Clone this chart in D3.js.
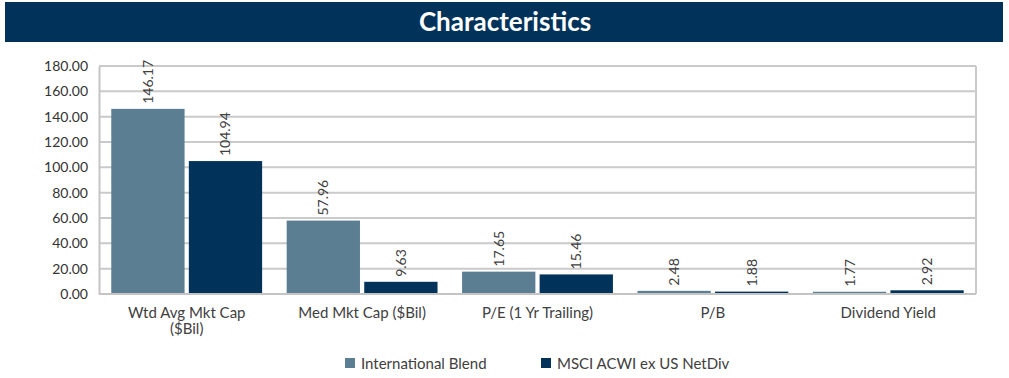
<!DOCTYPE html>
<html>
<head>
<meta charset="utf-8">
<script src="https://cdn.jsdelivr.net/npm/d3@7"></script>
<style>
  body { margin: 0; background: #fff; }
  svg { display: block; font-family: "Lato", "DejaVu Sans", sans-serif; }
</style>
</head>
<body>
<svg id="chart" width="1009" height="378"></svg>
<script>
// Portfolio characteristics vs. benchmark
const categories = ["Wtd Avg Mkt Cap ($Bil)", "Med Mkt Cap ($Bil)", "P/E (1 Yr Trailing)", "P/B", "Dividend Yield"];
const categoryLines = [["Wtd Avg Mkt Cap", "($Bil)"], ["Med Mkt Cap ($Bil)"], ["P/E (1 Yr Trailing)"], ["P/B"], ["Dividend Yield"]];
const seriesNames = ["International Blend", "MSCI ACWI ex US NetDiv"];
const internationalBlend = [146.17, 57.96, 17.65, 2.48, 1.77];
const msciAcwiExUs = [104.94, 9.63, 15.46, 1.88, 2.92];
const yTicks = [0, 20, 40, 60, 80, 100, 120, 140, 160, 180];

const colors = ["#5b7e92", "#01335a"];
const series = [internationalBlend, msciAcwiExUs];

const svg = d3.select("#chart");

// Title banner
svg.append("rect").attr("x", 5).attr("y", 2).attr("width", 998).attr("height", 40).attr("fill", "#01335a");
svg.append("text").attr("x", 505).attr("y", 31).attr("text-anchor", "middle")
  .attr("fill", "#fff").attr("font-size", 26).attr("font-weight", "bold").text("Characteristics");

const plot = { left: 99, right: 976, top: 66, bottom: 294 };

const x = d3.scaleBand().domain(categories).range([plot.left, plot.right]).paddingInner(0.14).paddingOuter(0.07);
const xi = d3.scaleBand().domain(seriesNames).range([0, x.bandwidth()]).paddingInner(0.055);
const y = d3.scaleLinear().domain([0, 180]).range([plot.bottom, plot.top]);

// Gridlines
svg.append("g").selectAll("line").data(yTicks.slice(1)).join("line")
  .attr("x1", plot.left).attr("x2", plot.right)
  .attr("y1", d => y(d)).attr("y2", d => y(d))
  .attr("stroke", "#cacaca").attr("stroke-width", 2);
// right border
svg.append("line").attr("x1", plot.right).attr("x2", plot.right).attr("y1", plot.top).attr("y2", plot.bottom)
  .attr("stroke", "#cacaca").attr("stroke-width", 2);

// Y axis
const yAxis = svg.append("g").attr("transform", `translate(${plot.left},0)`)
  .call(d3.axisLeft(y).tickValues(yTicks).tickFormat(d3.format(".2f")).tickSize(0).tickPadding(11));
yAxis.select(".domain").attr("stroke", "#c4c4c4").attr("stroke-width", 2);
yAxis.selectAll("text").attr("font-size", 14).attr("fill", "#333").attr("font-family", "Lato, sans-serif");

// Bars
const groups = svg.append("g").selectAll("g").data(categories).join("g")
  .attr("transform", d => `translate(${x(d)},0)`);

groups.each(function(cat, ci) {
  const g = d3.select(this);
  seriesNames.forEach((s, si) => {
    const v = series[si][ci];
    g.append("rect").attr("x", xi(s)).attr("width", xi.bandwidth())
      .attr("y", y(v)).attr("height", y(0) - y(v)).attr("fill", colors[si]);
    const lx = xi(s) + xi.bandwidth() / 2 + 5;
    const ly = y(v) - 5;
    g.append("text").attr("transform", `translate(${lx},${ly}) rotate(-90)`)
      .attr("font-size", 14).attr("fill", "#404040").text(v.toFixed(2));
  });
});

// X axis baseline
svg.append("line").attr("x1", plot.left).attr("x2", plot.right).attr("y1", plot.bottom).attr("y2", plot.bottom)
  .attr("stroke", "#c4c4c4").attr("stroke-width", 2);

// Category labels
categories.forEach((c, i) => {
  const t = svg.append("text").attr("x", x(c) + x.bandwidth() / 2).attr("y", 318)
    .attr("text-anchor", "middle").attr("font-size", 15).attr("fill", "#404040");
  categoryLines[i].forEach((line, li) => {
    t.append("tspan").attr("x", x(c) + x.bandwidth() / 2).attr("dy", li === 0 ? 0 : 16).text(line);
  });
});

// Legend
const legendX = [345, 541];
seriesNames.forEach((s, i) => {
  svg.append("rect").attr("x", legendX[i]).attr("y", 358).attr("width", 10).attr("height", 10).attr("fill", colors[i]);
  svg.append("text").attr("x", legendX[i] + 16).attr("y", 369).attr("font-size", 15).attr("fill", "#404040").text(s);
});
</script>
</body>
</html>
